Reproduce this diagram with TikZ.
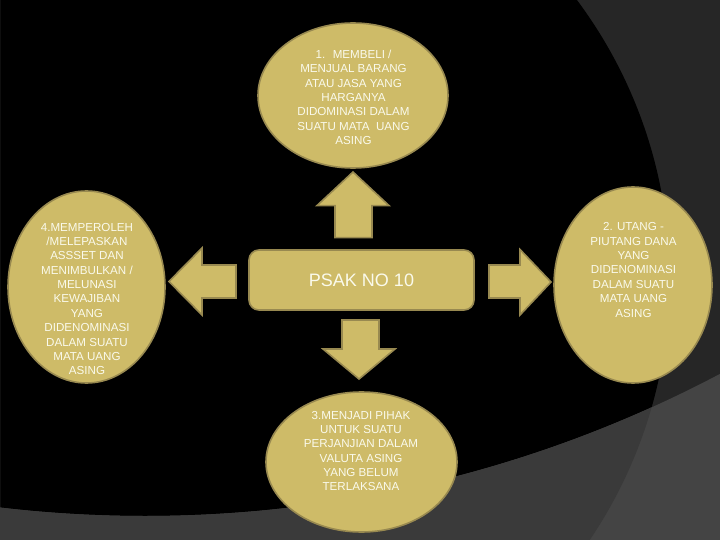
\documentclass[tikz,border=0pt]{standalone}
\usepackage{fontspec}
\setmainfont{Liberation Sans}
\usetikzlibrary{shapes.geometric}
\definecolor{gold}{RGB}{206,187,104}
\definecolor{goldline}{RGB}{152,137,80}
\definecolor{bgdark}{RGB}{38,38,38}
\definecolor{bgmid}{RGB}{58,58,58}
\definecolor{bglight}{RGB}{68,68,68}
\definecolor{txtc}{RGB}{250,250,236}
\tikzset{
  goldshape/.style={fill=gold, draw=goldline, line width=1.6pt, line join=miter},
  ell/.style={goldshape, ellipse, inner sep=0pt},
  psakbox/.style={goldshape, rectangle, rounded corners=10pt, inner sep=0pt,
    text=txtc, font=\fontsize{18}{20}\selectfont},
  txt/.style={text=txtc, align=center, inner sep=0pt,
    font=\fontsize{11.6}{14.35}\selectfont}
}
\begin{document}
\begin{tikzpicture}[x=1pt,y=-1pt]
\useasboundingbox (0,0) rectangle (720,540);
\clip (0,0) rectangle (720,540);
% background
\fill[bgdark] (0,0) rectangle (720,540);
\begin{scope}
  \clip (203,279) circle[radius=466.5pt];
  \fill[black] (0,0) rectangle (720,540);
\end{scope}
\fill[bglight, even odd rule] (0,0) rectangle (720,540) (145,-716) circle[radius=1232pt];
\begin{scope}
  \clip (203,279) circle[radius=466.5pt];
  \fill[bgmid, even odd rule] (0,0) rectangle (720,540) (145,-716) circle[radius=1232pt];
\end{scope}
% ellipses
\node[ell, minimum width=190pt, minimum height=145pt] (top) at (353,95.5) {};
\node[ell, minimum width=157pt, minimum height=192pt] (left) at (86.5,287) {};
\node[ell, minimum width=158pt, minimum height=196pt] (right) at (633,285) {};
\node[ell, minimum width=191pt, minimum height=140pt] (bottom) at (361.5,462) {};
% center box
\node[psakbox, minimum width=225pt, minimum height=60pt] (psak) at (361.5,280) {PSAK NO 10};
% block arrows
\filldraw[goldshape] (353,172) -- (389,205.6) -- (372,205.6) -- (372,237.6)
  -- (335,237.6) -- (335,205.6) -- (317,205.6) -- cycle;
\filldraw[goldshape] (359,379) -- (395,349) -- (379,349) -- (379,320)
  -- (342,320) -- (342,349) -- (323,349) -- cycle;
\filldraw[goldshape] (169,281.5) -- (202,248) -- (202,265) -- (236,265)
  -- (236,298) -- (202,298) -- (202,315) -- cycle;
\filldraw[goldshape] (551,282) -- (520,249.5) -- (520,265) -- (489,265)
  -- (489,298) -- (520,298) -- (520,315) -- cycle;
% texts
\node[txt] (ttop) at (353.5,97.5) {1.~ MEMBELI /\\MENJUAL BARANG\\ATAU JASA YANG\\HARGANYA\\DIDOMINASI DALAM\\SUATU MATA~ UANG\\ASING};
\node[txt] (tleft) at (87,299) {4.MEMPEROLEH\\/MELEPASKAN\\ASSSET DAN\\MENIMBULKAN /\\MELUNASI\\KEWAJIBAN\\YANG\\DIDENOMINASI\\DALAM SUATU\\MATA UANG\\ASING};
\node[txt] (tright) at (633.5,270) {2. UTANG -\\PIUTANG DANA\\YANG\\DIDENOMINASI\\DALAM SUATU\\MATA UANG\\ASING};
\node[txt] (tbottom) at (361,451) {3.MENJADI PIHAK\\UNTUK SUATU\\PERJANJIAN DALAM\\VALUTA ASING\\YANG BELUM\\TERLAKSANA};
\end{tikzpicture}
\end{document}
